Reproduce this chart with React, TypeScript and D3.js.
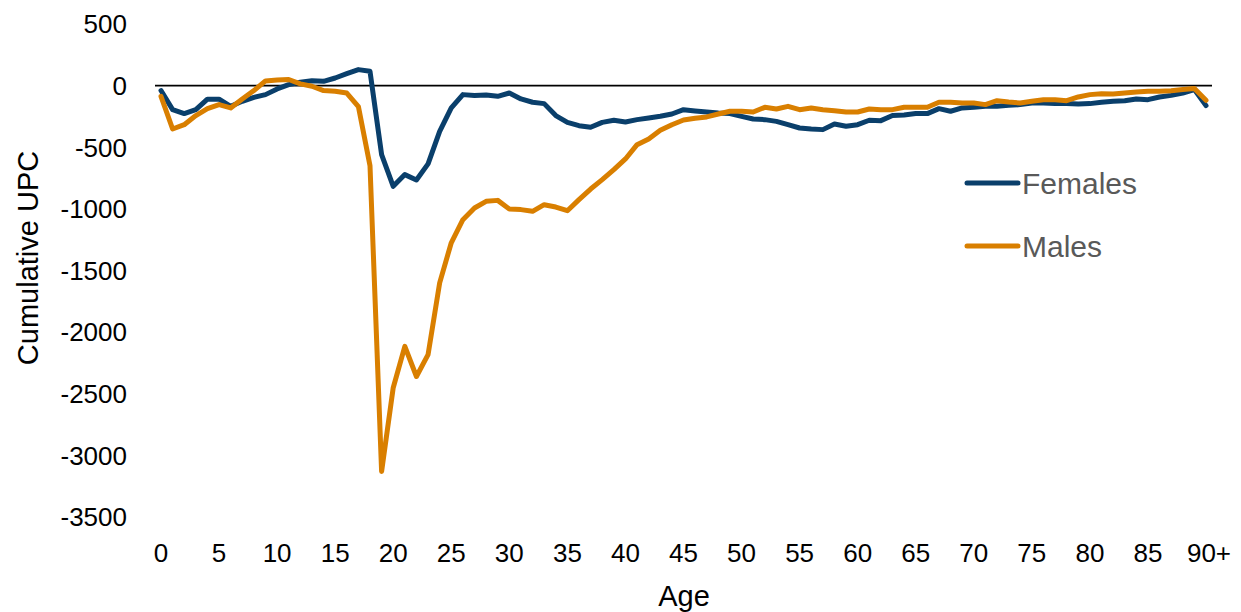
import React from "react";
import * as d3 from "d3";

const ages: number[] = d3.range(0, 91);
const xTickAges: number[] = [0, 5, 10, 15, 20, 25, 30, 35, 40, 45, 50, 55, 60, 65, 70, 75, 80, 85, 90];
const xTickLabels: string[] = ["0", "5", "10", "15", "20", "25", "30", "35", "40", "45", "50", "55", "60", "65", "70", "75", "80", "85", "90+"];
const yTicks: number[] = [500, 0, -500, -1000, -1500, -2000, -2500, -3000, -3500];

const females: number[] = [
  -40, -195, -227, -195, -110, -110, -168, -127, -95, -73,
  -27, 8, 27, 40, 35, 62, 97, 130, 116, -560,
  -817, -722, -765, -635, -371, -181, -73, -81, -76, -87,
  -60, -108, -135, -146, -243, -298, -325, -338, -298, -281,
  -295, -276, -262, -249, -230, -195, -205, -214, -222, -227,
  -249, -271, -276, -290, -317, -344, -352, -357, -311, -330,
  -317, -281, -284, -243, -238, -227, -227, -187, -208, -181,
  -176, -168, -168, -160, -154, -141, -141, -146, -146, -150,
  -146, -135, -127, -122, -108, -114, -92, -79, -60, -32,
  -162,
];

const males: number[] = [
  -87, -352, -317, -243, -187, -154, -181, -108, -40, 38,
  45, 50, 14, -5, -40, -46, -60, -170, -650, -3130,
  -2451, -2116, -2360, -2183, -1600, -1275, -1088, -993, -939, -931,
  -1001, -1006, -1020, -966, -985, -1015, -925, -839, -763, -682,
  -595, -479, -433, -363, -317, -279, -265, -254, -230, -208,
  -208, -214, -176, -190, -168, -195, -181, -195, -203, -214,
  -214, -190, -195, -195, -176, -176, -176, -135, -135, -141,
  -141, -154, -122, -133, -141, -127, -114, -114, -122, -92,
  -73, -65, -68, -60, -51, -46, -46, -41, -32, -24,
  -119,
];

const seriesNames: string[] = ["Females", "Males"];
const seriesColors: string[] = ["#0a3f6b", "#d97f00"];

export default function App() {
  const W = 1241;
  const H = 612;
  const x = d3.scaleLinear().domain([0, 90]).range([161, 1206]);
  const y = d3.scaleLinear().domain([-3500, 500]).range([517, 24]);
  const font = "'Liberation Sans', Arial, sans-serif";
  const line = d3
    .line<number>()
    .x((_, i) => x(ages[i]))
    .y((d) => y(d));
  const series = [females, males];
  const legendY = [183, 246];

  return (
    <svg
      width={W}
      height={H}
      style={{ position: "absolute", left: 0, top: 0 }}
      fontFamily={font}
    >
      <rect width={W} height={H} fill="#fff" />
      {yTicks.map((t) => (
        <text
          key={t}
          x={127}
          y={y(t)}
          dy="0.36em"
          textAnchor="end"
          fontSize={26}
          fill="#000"
        >
          {t}
        </text>
      ))}
      {xTickAges.map((a, i) => (
        <text
          key={a}
          x={x(a) + (i === xTickAges.length - 1 ? 3 : 0)}
          y={553}
          dy="0.36em"
          textAnchor="middle"
          fontSize={26}
          fill="#000"
        >
          {xTickLabels[i]}
        </text>
      ))}
      <line x1={155} x2={1212} y1={y(0)} y2={y(0)} stroke="#000" strokeWidth={1.8} />
      {series.map((s, i) => (
        <path
          key={seriesNames[i]}
          d={line(s) || ""}
          fill="none"
          stroke={seriesColors[i]}
          strokeWidth={5}
          strokeLinejoin="round"
          strokeLinecap="round"
        />
      ))}
      {seriesNames.map((n, i) => (
        <g key={n}>
          <line
            x1={967}
            x2={1018}
            y1={legendY[i]}
            y2={legendY[i]}
            stroke={seriesColors[i]}
            strokeWidth={5}
            strokeLinecap="round"
          />
          <text x={1022} y={legendY[i]} dy="0.36em" fontSize={30} fill="#595959">
            {n}
          </text>
        </g>
      ))}
      <text
        transform={`translate(28,258) rotate(-90)`}
        textAnchor="middle"
        dy="0.36em"
        fontSize={29}
        fill="#000"
      >
        Cumulative UPC
      </text>
      <text x={684} y={596} dy="0.36em" textAnchor="middle" fontSize={29} fill="#000">
        Age
      </text>
    </svg>
  );
}
